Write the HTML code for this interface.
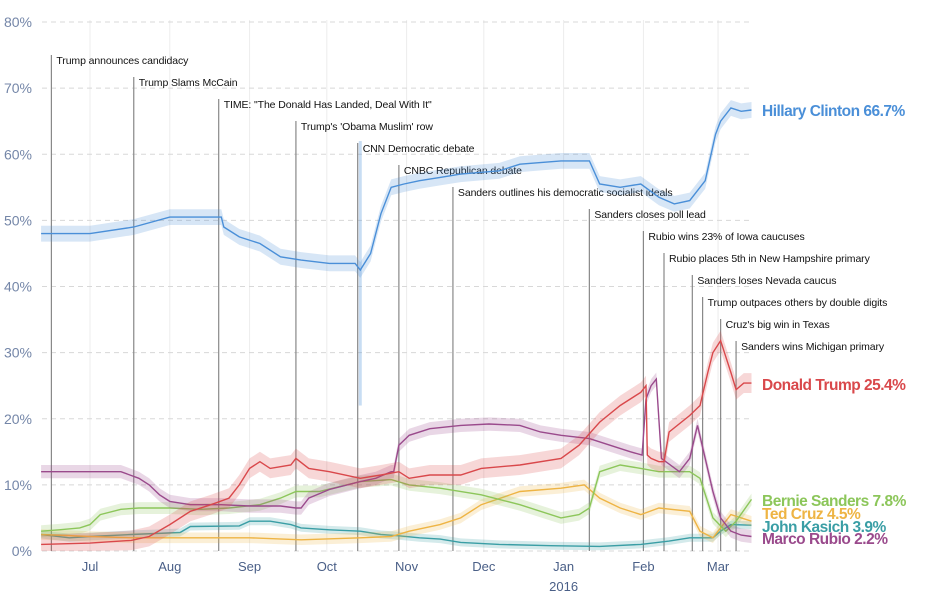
<!DOCTYPE html>
<html><head><meta charset="utf-8">
<style>
html,body{margin:0;padding:0;background:#fff;}
svg{display:block;font-family:"Liberation Sans",sans-serif;}
</style></head>
<body>
<svg id="chart" width="925" height="605"></svg>
<script>
const yTicks = [0,10,20,30,40,50,60,70,80];
const monthLabels = ["Jul","Aug","Sep","Oct","Nov","Dec","Jan","Feb","Mar"];
const monthDays = [0,31,62,92,123,153,184,215,244];
const clintonDays = [-19,0,17,31,51,52,58,66,74,82,93,103,105,109,113,117,122,128,136,144,159,167,183,194,198,206,214,221,227,233,239,243,245,249,253,257];
const clintonVals = [48,48,49,50.5,50.5,49,47.5,46.5,44.5,44,43.5,43.5,42.5,45,51,55,55.5,56,56.5,57,57.5,58.5,59,59,55.5,55,55.5,53.5,52.5,53,56,63,65,67,66.5,66.7];
const clintonSpikeDay = 105;
const clintonSpikeLow = 22;
const clintonSpikeHigh = 62;
const trumpDays = [-19,0,16,23,31,39,47,54,58,62,66,70,78,80,85,93,105,113,120,124,132,144,152,167,183,190,198,206,214,216,216.5,218,221,223,225,233,237,240,242,245,249,251,254,257];
const trumpVals = [1,1.2,1.6,2.2,4,6,7,8,10,12.5,13.5,12.5,13,14,12.5,12,11,11.5,12,11,11.5,11.5,12.5,13,14,16,19.5,22,24,25,14.5,14,13.5,13.5,18,20.5,22,27,30,31.8,27,24.4,25.4,25.4];
const rubioDays = [-19,12,19,23,27,31,39,51,62,74,80,82,85,93,105,111,117,118,120,124,132,144,155,167,175,183,194,202,210,214.5,216,218,220,222,229,233,236,239,242,245,249,253,257];
const rubioVals = [12,12,11,10,8.5,7.5,7,7,6.8,6.8,6.5,6.5,8,9.3,10.5,11,12,12,16,17.5,18.5,19,19.2,19,18,17.5,17,16,15,14.5,23,25,26,14,12,14,19,14,9,5,3,2.4,2.2];
const sandersDays = [-19,-12,-4,0,4,12,19,31,43,54,66,74,80,89,105,117,124,136,152,167,183,190,194,198,206,214,221,233,237,242,247,251,257];
const sandersVals = [3,3.2,3.5,4,5.5,6.3,6.5,6.5,6.3,6.5,7,8,9,9,10.5,10.8,10,9.5,8.5,7,5,5.5,6.5,12,13,12.5,12,12,11,5,3,4.5,7.8];
const cruzDays = [-19,0,16,43,62,82,105,117,124,136,144,152,167,183,192,198,206,214,221,233,237,242,245,249,257];
const cruzVals = [2.5,2.2,2,2,2,1.7,2,2.2,3,4,5,7,9,9.5,10,8,6.5,5.5,6.5,6,3,2,3.5,5.5,4.5];
const kasichDays = [-19,-8,0,16,35,39,58,62,70,78,82,93,105,113,120,128,136,144,159,179,198,214,225,233,242,245,249,257];
const kasichVals = [2.5,2,2.2,2.5,2.8,3.7,3.8,4.5,4.5,4,3.5,3.2,3,2.5,2.3,2,1.8,1.3,1,0.8,0.7,1,1.5,2,2,3,4,3.9];
const eventDays = [-15,17,50,80,104,120,141,194,215,223,234,238,245,251];
const eventLabels = ["Trump announces candidacy","Trump Slams McCain","TIME: \"The Donald Has Landed, Deal With It\"","Trump's 'Obama Muslim' row","CNN Democratic debate","CNBC Republican debate","Sanders outlines his democratic socialist ideals","Sanders closes poll lead","Rubio wins 23% of Iowa caucuses","Rubio places 5th in New Hampshire primary","Sanders loses Nevada caucus","Trump outpaces others by double digits","Cruz's big win in Texas","Sanders wins Michigan primary"];

const NS="http://www.w3.org/2000/svg";
const svg=document.getElementById('chart');
const X=d=>90+d*2.574;
const Y=v=>551-v*6.612;
function mk(tag,attrs,parent){const e=document.createElementNS(NS,tag);for(const k in attrs)e.setAttribute(k,attrs[k]);(parent||svg).appendChild(e);return e;}

monthDays.forEach((d,i)=>{
  const l=mk('line',{x1:X(d),x2:X(d),y1:20,y2:552,stroke:'#ececec','stroke-width':1});
  
  
  const t=mk('text',{x:X(d),y:571,'text-anchor':'middle','font-size':13,fill:'#4a5f87'});
  t.textContent=monthLabels[i];
  
  
});
const yr=mk('text',{x:X(184),y:591,'text-anchor':'middle','font-size':13,fill:'#4a5f87'});
yr.textContent='2016';



yTicks.forEach(v=>{
  const l=mk('line',{x1:42,x2:752,y1:Y(v),y2:Y(v),stroke:'#d8d8d8','stroke-dasharray':'5,4'});
  
  
  const t=mk('text',{x:32,y:Y(v)+5,'text-anchor':'end','font-size':14,fill:'#7486a8'});
  t.textContent=v+'%';
  
  
});

eventDays.forEach((d,i)=>{
  const top=55+i*22;
  const l=mk('line',{x1:X(d),x2:X(d),y1:top,y2:551,stroke:'#888','stroke-width':1.2});
  
  
  const t=mk('text',{x:X(d)+5,y:top+9,'font-size':10.5,fill:'#111','letter-spacing':'-0.1'});
  t.textContent=eventLabels[i];
  
  
});

function series(name,days,vals,color,band){
  let up='',dn='';
  days.forEach((d,i)=>{up+=(i?'L':'M')+X(d).toFixed(1)+','+Y(vals[i]+band).toFixed(1);});
  for(let i=days.length-1;i>=0;i--)dn+='L'+X(days[i]).toFixed(1)+','+Y(Math.max(0,vals[i]-band)).toFixed(1);
  const b=mk('path',{d:up+dn+'Z',fill:color,'fill-opacity':0.22,stroke:'none'});
  
  
  let p='';
  days.forEach((d,i)=>{p+=(i?'L':'M')+X(d).toFixed(1)+','+Y(vals[i]).toFixed(1);});
  const l=mk('path',{d:p,fill:'none',stroke:color,'stroke-width':1.4});
  
  
}
series('kasich',kasichDays,kasichVals,'#3a9ea5',0.6);
series('cruz',cruzDays,cruzVals,'#eeb444',0.8);
series('sanders',sandersDays,sandersVals,'#8cc65a',0.9);
series('rubio',rubioDays,rubioVals,'#9a4a8c',1.0);
series('trump',trumpDays,trumpVals,'#d9484b',1.5);
series('clinton',clintonDays,clintonVals,'#4a8fd8',1.2);
const sp=mk('rect',{x:X(clintonSpikeDay)-1.5,y:Y(clintonSpikeHigh),width:3,height:Y(clintonSpikeLow)-Y(clintonSpikeHigh),fill:'#4a8fd8','fill-opacity':0.3});



const labels=[["Hillary Clinton 66.7%",116,'#4a8fd8','clinton-label'],["Donald Trump 25.4%",390,'#d9484b','trump-label'],["Bernie Sanders 7.8%",506,'#8cc65a','sanders-label'],["Ted Cruz 4.5%",519,'#eeb444','cruz-label'],["John Kasich 3.9%",532,'#3a9ea5','kasich-label'],["Marco Rubio 2.2%",544,'#9a4a8c','rubio-label']];
labels.forEach(a=>{
  const t=mk('text',{x:762,y:a[1],'font-size':15.5,'font-weight':'bold',fill:a[2],'letter-spacing':'-0.5'});
  t.textContent=a[0];
  
  
});
</script>
</body></html>
